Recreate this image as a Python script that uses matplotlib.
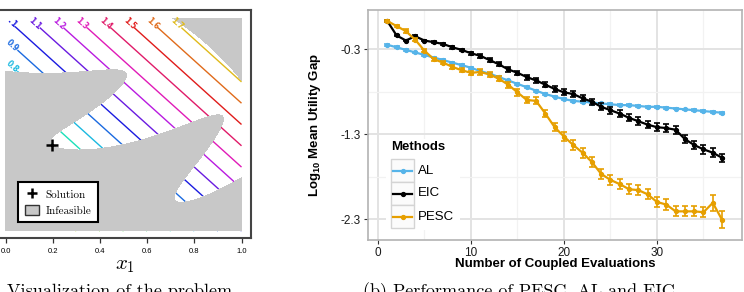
import colorsys
import numpy as np
import matplotlib
matplotlib.use("Agg")
import matplotlib.pyplot as plt
from matplotlib.patches import Rectangle, Patch
from matplotlib.lines import Line2D

plt.rcParams["axes.unicode_minus"] = False
plt.rcParams["mathtext.fontset"] = "custom"
plt.rcParams["mathtext.rm"] = "Liberation Sans"
plt.rcParams["mathtext.bf"] = "Liberation Sans:bold"

# ---- left panel: toy problem (min x1 + x2, two constraints) ----
levels = [0.3, 0.4, 0.5, 0.6, 0.7, 0.8, 0.9, 1.0, 1.1, 1.2, 1.3, 1.4, 1.5, 1.6, 1.7, 1.8, 1.9]
label_levels = [0.8, 0.9, 1.0, 1.1, 1.2, 1.3, 1.4, 1.5, 1.6, 1.7]
label_pos = [(0.03, 0.77), (0.03, 0.87), (0.03, 0.97), (0.125, 0.975), (0.225, 0.975),
             (0.325, 0.975), (0.425, 0.975), (0.525, 0.975), (0.625, 0.975), (0.725, 0.975)]
solution = (0.1954, 0.4044)
x1_ticks = [0.0, 0.2, 0.4, 0.6, 0.8, 1.0]

# ---- right panel: log10 mean utility gap ----
evals = list(range(1, 38))
al_mean = [-0.25, -0.28, -0.31, -0.34, -0.37, -0.40, -0.43, -0.46, -0.49, -0.52,
           -0.56, -0.59, -0.63, -0.67, -0.71, -0.75, -0.79, -0.83, -0.86, -0.89,
           -0.91, -0.92, -0.93, -0.94, -0.95, -0.96, -0.96, -0.97, -0.98, -0.98,
           -0.99, -1.00, -1.01, -1.02, -1.03, -1.04, -1.05]
al_err = [0.01] * 37
eic_mean = [0.03, -0.14, -0.20, -0.15, -0.20, -0.22, -0.24, -0.28, -0.31, -0.35,
            -0.38, -0.43, -0.48, -0.54, -0.58, -0.63, -0.67, -0.72, -0.77, -0.81,
            -0.83, -0.88, -0.92, -0.98, -1.02, -1.06, -1.11, -1.15, -1.19, -1.22,
            -1.23, -1.25, -1.36, -1.43, -1.48, -1.52, -1.58]
eic_err = [0.01, 0.01, 0.01, 0.01, 0.01, 0.01, 0.015, 0.015, 0.015, 0.02,
           0.02, 0.02, 0.025, 0.025, 0.025, 0.03, 0.03, 0.03, 0.03, 0.035,
           0.035, 0.035, 0.035, 0.04, 0.04, 0.04, 0.04, 0.045, 0.045, 0.045,
           0.045, 0.05, 0.05, 0.05, 0.05, 0.05, 0.05]
pesc_mean = [0.03, -0.03, -0.09, -0.19, -0.32, -0.42, -0.46, -0.51, -0.55, -0.58,
             -0.57, -0.60, -0.65, -0.72, -0.81, -0.90, -0.91, -1.06, -1.22, -1.33,
             -1.43, -1.52, -1.63, -1.77, -1.84, -1.89, -1.95, -1.96, -2.01, -2.10,
             -2.13, -2.21, -2.21, -2.21, -2.22, -2.11, -2.31]
pesc_err = [0.01, 0.015, 0.02, 0.02, 0.02, 0.02, 0.02, 0.025, 0.025, 0.025,
            0.03, 0.03, 0.03, 0.035, 0.04, 0.04, 0.04, 0.045, 0.05, 0.05,
            0.06, 0.06, 0.06, 0.06, 0.06, 0.06, 0.06, 0.06, 0.06, 0.06,
            0.06, 0.06, 0.06, 0.06, 0.06, 0.09, 0.10]
methods = ["AL", "EIC", "PESC"]
method_colors = {"AL": "#56B4E9", "EIC": "#000000", "PESC": "#E69F00"}

fig = plt.figure(figsize=(7.44, 2.92), dpi=100)

# ===== left panel =====
ax1 = fig.add_axes([-0.002, 1 - 238 / 292, 252 / 744, 228 / 292])
g = np.linspace(0, 1, 600)
X1, X2 = np.meshgrid(g, g)
c1 = 0.5 * np.sin(2 * np.pi * (X1 ** 2 - 2 * X2)) + X1 + 2 * X2 - 1.5
c2 = -X1 ** 2 - X2 ** 2 + 1.5

# contour lines stop just inside the top and left edges, where their labels sit
L1, L2 = np.meshgrid(np.linspace(0.012, 1, 400), np.linspace(0, 0.985, 400))
obj = L1 + L2


def level_color(v):
    h = (0.667 + (v - 1.0) * 0.667) % 1.0
    return colorsys.hsv_to_rgb(h, 0.88, 0.88)


plain_levels = [v for v in levels if v not in label_levels]
ax1.contour(L1, L2, obj, levels=plain_levels, colors=[level_color(v) for v in plain_levels],
            linewidths=1.0, zorder=1)
cs = ax1.contour(L1, L2, obj, levels=label_levels,
                 colors=[level_color(v) for v in label_levels], linewidths=1.0, zorder=1)
labels = ax1.clabel(cs, manual=label_pos, fontsize=5.5, inline=True, inline_spacing=1,
                    fmt=lambda v: f"{v:g}")
for t in labels:
    t.set_fontweight("bold")
    t.set_zorder(3)
ax1.contourf(X1, X2, np.minimum(c1, c2), levels=[-10, 0], colors=["#c8c8c8"], zorder=2)
ax1.plot(*solution, marker="+", color="black", ms=8, mew=1.8, ls="none", zorder=4)

ax1.set_xlim(-7 / 236, 245 / 236)
ax1.set_ylim(-7 / 213, 221 / 213)
ax1.set_xticks(x1_ticks)
ax1.set_xticklabels([f"{t:.1f}" for t in x1_ticks], family="Liberation Sans")
ax1.set_yticks([])
ax1.tick_params(axis="x", labelsize=5.5, length=3.5, width=0.9, pad=4, color="#333333")
for s in ax1.spines.values():
    s.set_color("#444444")
    s.set_linewidth(1.5)
ax1.set_xlabel("$x_1$", fontsize=15, math_fontfamily="cm", va="top")
ax1.xaxis.set_label_coords(0.5, -0.075)

h_sol = Line2D([], [], color="black", marker="+", ls="none", ms=7, mew=1.8)
h_inf = Patch(facecolor="#c8c8c8", edgecolor="#333333", lw=1.0)
leg1 = ax1.legend([h_sol, h_inf], ["Solution", "Infeasible"], loc="lower left",
                  bbox_to_anchor=(0.055, 0.045), frameon=True, fancybox=False,
                  edgecolor="black", framealpha=1, prop={"family": "cmr10", "size": 8},
                  handlelength=1.3, handleheight=1.0, handletextpad=0.6,
                  borderpad=0.6, labelspacing=0.45)
leg1.get_frame().set_linewidth(1.5)
leg1.set_zorder(5)

# ===== right panel =====
ax2 = fig.add_axes([368 / 744, 1 - 240 / 292, 374 / 744, 230 / 292])
series = {"AL": (al_mean, al_err), "EIC": (eic_mean, eic_err), "PESC": (pesc_mean, pesc_err)}
for m in methods:
    mean, err = series[m]
    col = method_colors[m]
    ax2.errorbar(evals, mean, yerr=err, color=col, lw=0, elinewidth=1.2,
                 capsize=2.5, capthick=1.2, zorder=2)
    ax2.plot(evals, mean, color=col, lw=1.6, zorder=2)
    ax2.plot(evals, mean, "o", color=col, ms=2.8, zorder=2)

ax2.set_xlim(-1.07, 39.14)
ax2.set_ylim(-2.547, 0.159)
ax2.set_xticks([0, 10, 20, 30])
ax2.set_xticks([5, 15, 25, 35], minor=True)
ax2.set_yticks([-2.3, -1.3, -0.3])
ax2.set_yticks([-1.8, -0.8], minor=True)
ax2.set_yticklabels(["-2.3", "-1.3", "-0.3"])
ax2.set_axisbelow(True)
ax2.grid(which="major", color="#e3e3e3", lw=1.4)
ax2.grid(which="minor", color="#f2f2f2", lw=0.9)
ax2.tick_params(which="major", length=3, width=0.8, color="#333333", labelsize=8.5,
                labelcolor="#1a1a1a", pad=2)
ax2.tick_params(which="minor", length=0)
for lab in ax2.get_xticklabels() + ax2.get_yticklabels():
    lab.set_family("Liberation Sans")
for s in ax2.spines.values():
    s.set_color("#b3b3b3")
    s.set_linewidth(1.2)

ax2.set_xlabel("Number of Coupled Evaluations", family="Liberation Sans",
               fontweight="bold", fontsize=9.5, va="top")
ax2.xaxis.set_label_coords(0.5, -0.078)
ax2.set_ylabel(r"Log$_{\mathbf{10}}$ Mean Utility Gap", family="Liberation Sans",
               fontweight="bold", fontsize=9.5, math_fontfamily="custom")
ax2.yaxis.set_label_coords(-0.12, 0.5)


def px(x, y):
    return ((x - 368) / 374, (240 - y) / 230)


T = ax2.transAxes
ax2.add_patch(Rectangle(px(386, 230), 74 / 374, 91 / 230, transform=T,
                        facecolor="white", edgecolor="none", zorder=3))
ax2.text(*px(391, 147), "Methods", transform=T, family="Liberation Sans",
         fontweight="bold", fontsize=9.5, va="center", ha="left", zorder=4)
key_tops = [159, 182, 205]
for m, top in zip(methods, key_tops):
    ax2.add_patch(Rectangle(px(391, top + 23), 23 / 374, 23 / 230, transform=T,
                            facecolor="#fbfbfb", edgecolor="#d4d4d4", lw=1.0, zorder=4))
    cy = top + 11.5
    ax2.add_line(Line2D([px(393, cy)[0], px(412, cy)[0]], [px(0, cy)[1]] * 2,
                        transform=T, color=method_colors[m], lw=1.6, zorder=5))
    ax2.add_line(Line2D([px(402.5, cy)[0]], [px(0, cy)[1]], transform=T, marker="o",
                        ms=2.8, color=method_colors[m], zorder=5))
    ax2.text(*px(418, cy), m, transform=T, family="Liberation Sans", fontsize=9.5,
             va="center", ha="left", zorder=5)

# captions (cut at the bottom edge, as in the source figure)
fig.text(232 / 744, 1 - 282 / 292, "(a) Visualization of the problem", family="cmr10",
         fontsize=13, ha="right", va="top")
fig.text(519 / 744, 1 - 282 / 292, "(b) Performance of PESC, AL and EIC", family="cmr10",
         fontsize=13, ha="center", va="top")

fig.savefig("out.png", dpi=100)
